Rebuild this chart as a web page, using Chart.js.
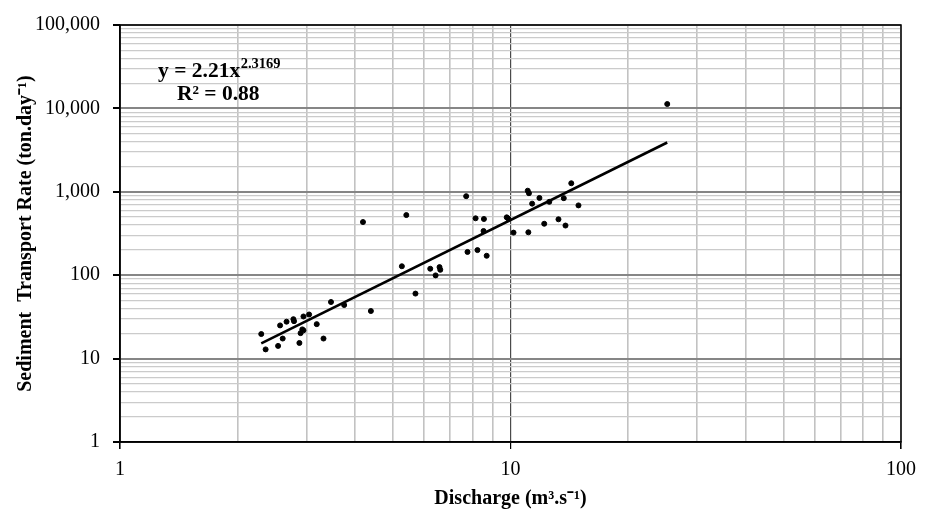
<!DOCTYPE html>
<html>
<head>
<meta charset="utf-8">
<script src="https://cdn.jsdelivr.net/npm/chart.js@4.4.1/dist/chart.umd.min.js"></script>
<style>
  html,body{margin:0;padding:0;background:#fff;}
  #wrap{width:931px;height:512px;position:relative;}
</style>
</head>
<body>
<div id="wrap"><canvas id="chart"></canvas></div>
<script>
// discharge (m3/s) and sediment transport rate (ton/day)
const discharge = [2.30,2.36,2.54,2.57,2.61,2.67,2.78,2.79,2.88,2.90,2.93,2.95,2.95,3.05,3.19,3.32,3.47,3.75,4.19,4.39,
  5.27,5.41,5.71,6.23,6.43,6.58,6.61,7.70,7.76,8.14,8.23,8.55,8.53,8.69,9.78,9.87,10.18,11.07,11.15,11.11,
  11.36,11.86,12.20,12.57,13.27,13.69,13.83,14.31,14.93,25.2];
const rate = [19.7,12.9,14.2,25.0,17.4,27.7,29.7,28.1,15.4,20.2,22.4,21.8,32.0,33.8,25.9,17.4,47.7,43.9,434,37.2,
  128,526,60.2,119.5,99.5,125,116,886,190,481,200,472,339,171,494,478,324,1031,962,327,
  721,844,414,758,468,839,394,1266,687,11280];
// power trend line end points (y = 2.21x^2.3169)
const trendX = [2.30, 25.2];
const trendY = [15.2, 3900];
const xTicks = [1,2,3,4,5,6,7,8,9,10,20,30,40,50,60,70,80,90,100];
const yTicks = [];
[1,10,100,1000,10000].forEach(d=>{ for(let k=1;k<10;k++) yTicks.push(d*k); });
yTicks.push(100000);
const eqMain = 'y = 2.21x';
const eqPow = '2.3169';
const eqR2 = 'R² = 0.88';

const isMajor = v => Math.abs(Math.log10(v) - Math.round(Math.log10(v))) < 1e-9;
const serif = '"Liberation Serif", "Times New Roman", serif';

const frame = {
  id:'frame',
  afterDraw(chart){
    const {ctx, chartArea:a} = chart;
    ctx.save();
    ctx.strokeStyle = '#000'; ctx.lineWidth = 1.5;
    ctx.strokeRect(a.left, a.top, a.right-a.left, a.bottom-a.top);
    ctx.fillStyle = '#000';
    ctx.textBaseline = 'alphabetic';
    ctx.font = `bold 21.5px ${serif}`;
    ctx.fillText(eqMain, 158, 77);
    const w = ctx.measureText(eqMain).width;
    ctx.font = `bold 14.5px ${serif}`;
    ctx.fillText(eqPow, 158 + w + 0.5, 68);
    ctx.font = `bold 21.5px ${serif}`;
    ctx.fillText(eqR2, 177, 100);
    ctx.restore();
  }
};

new Chart(document.getElementById('chart'), {
  type:'scatter',
  data:{
    datasets:[
      { label:'data', data:discharge.map((x,i)=>({x, y:rate[i]})), backgroundColor:'#000', borderColor:'#000', pointRadius:2.5, pointHoverRadius:2.5, order:1 },
      { label:'trend', type:'line', data:trendX.map((x,i)=>({x, y:trendY[i]})), borderColor:'#000', borderWidth:2.6, pointRadius:0, fill:false, order:2 }
    ]
  },
  options:{
    responsive:true, maintainAspectRatio:false, animation:false,
    layout:{ padding:{ top:23, right:30, left:0, bottom:0 } },
    plugins:{ legend:{display:false}, tooltip:{enabled:false} },
    scales:{
      x:{
        type:'logarithmic', min:1, max:100,
        afterBuildTicks: s => { s.ticks = xTicks.map(v=>({value:v})); },
        afterFit: s => { s.height = 70; },
        ticks:{ autoSkip:false, maxRotation:0, padding:9, color:'#000', font:{family:serif, size:20},
          callback: v => isMajor(v) ? String(v) : '' },
        grid:{
          color: c => c.tick && c.tick.value === 10 ? '#4a4a4a' : '#c2c2c2',
          lineWidth: c => c.tick && c.tick.value === 10 ? 1.2 : 1.6,
          tickColor: c => c.tick && isMajor(c.tick.value) ? '#000' : 'rgba(0,0,0,0)',
          tickLength:7, drawTicks:true
        },
        border:{ color:'#000', width:1.5 },
        title:{ display:true, text:'Discharge (m³.s⁻¹)', color:'#000', font:{family:serif, size:20, weight:'bold'}, padding:{top:0, bottom:1} }
      },
      y:{
        type:'logarithmic', min:1, max:100000,
        afterBuildTicks: s => { s.ticks = yTicks.map(v=>({value:v})); },
        afterFit: s => { s.width = 120; },
        ticks:{ autoSkip:false, padding:13, color:'#000', font:{family:serif, size:20},
          callback: v => isMajor(v) ? Number(v).toLocaleString('en-US') : '' },
        grid:{
          color: c => c.tick && isMajor(c.tick.value) ? '#868686' : '#cbcbcb',
          lineWidth: c => c.tick && isMajor(c.tick.value) ? 2 : 1.2,
          tickColor: c => c.tick && isMajor(c.tick.value) ? '#000' : 'rgba(0,0,0,0)',
          tickLength:7, drawTicks:true
        },
        border:{ color:'#000', width:1.5 },
        title:{ display:true, text:'Sediment  Transport Rate (ton.day⁻¹)', color:'#000', font:{family:serif, size:20, weight:'bold'}, padding:{top:14, bottom:0} }
      }
    }
  },
  plugins:[frame]
});
</script>
</body>
</html>
